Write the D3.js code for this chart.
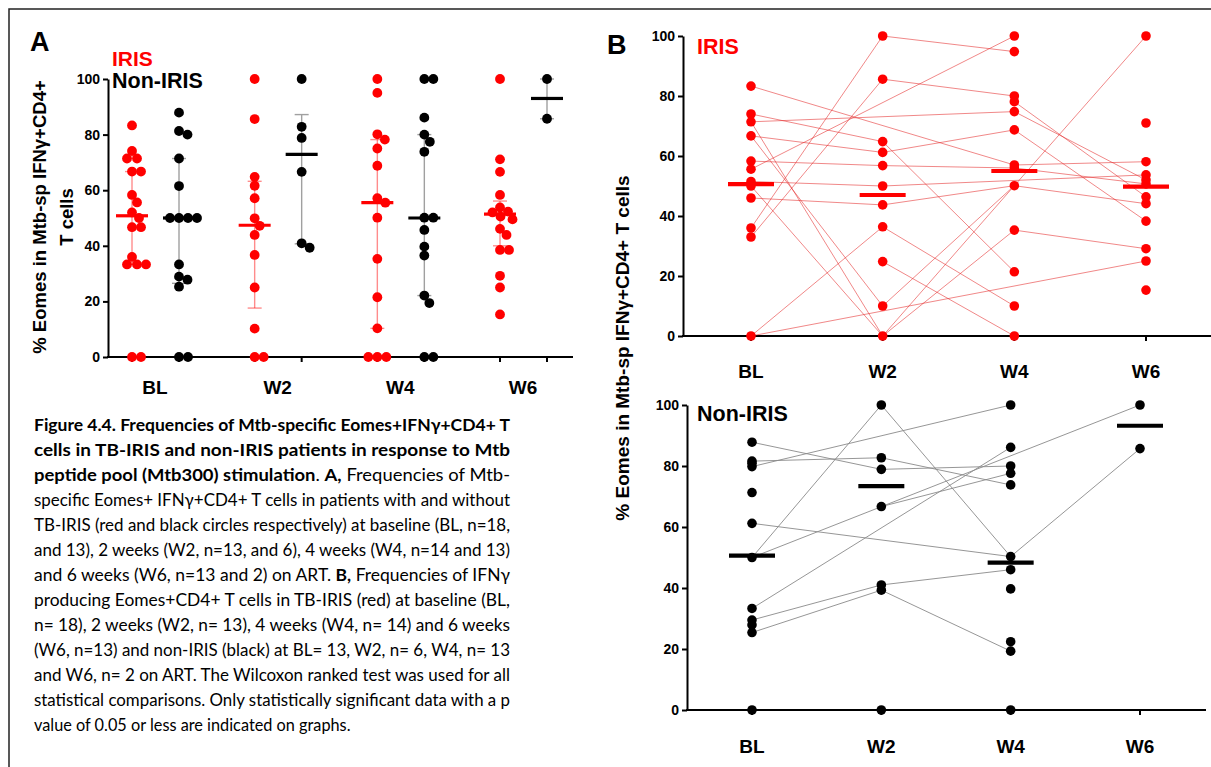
<!DOCTYPE html>
<html>
<head>
<meta charset="utf-8">
<script src="https://cdn.jsdelivr.net/npm/d3@7"></script>
<style>
  body { margin: 0; background: #fff; }
  svg { display: block; }
  text { font-family: "Liberation Sans", Arial, sans-serif; }
</style>
</head>
<body>
<div id="main-canvas"></div>
<script>
// Eomes+ IFNg+ CD4+ T cell frequencies, IRIS vs non-IRIS (figure 4.4)

const timepoints = ["BL", "W2", "W4", "W6"];
const yTicks = [0, 20, 40, 60, 80, 100];

// Panel A - scatter per time point
const irisA = [
    [83.3, 74.1, 71.4, 71.4, 66.7, 66.7, 58.3, 55.6, 52.0, 50.0, 46.7, 46.7, 36.0, 33.3, 33.3, 33.3, 0, 0],
    [100, 85.6, 64.8, 61.6, 57.1, 49.9, 47.2, 43.9, 36.7, 25.0, 10.2, 0, 0],
    [100, 95.0, 80.1, 78.2, 75.0, 68.8, 57.1, 55.5, 50.1, 35.3, 21.5, 10.3, 0, 0, 0],
    [100, 71.1, 66.6, 58.3, 53.8, 52.3, 52.0, 50.5, 49.5, 46.1, 43.9, 38.5, 38.5, 29.2, 25.0, 15.3]
];
const nonIrisA = [
    [87.9, 81.3, 80.0, 71.4, 61.5, 50, 50, 50, 50, 33.3, 28.9, 27.8, 25.3, 0, 0],
    [100, 82.8, 78.8, 66.6, 40.9, 39.3],
    [100, 100, 86.1, 80.0, 77.4, 73.8, 50.1, 50.1, 45.7, 39.7, 36.5, 22.1, 19.4, 0, 0],
    [100, 85.7]
];
const irisA_median = [50.8, 47.4, 55.5, 51.4];
const irisA_q1 = [33.3, 17.6, 10.3, 40.0];
const irisA_q3 = [66.7, 63.2, 78.2, 56.1];
const nonIrisA_median = [50.0, 72.9, 50.0, 93.0];
const nonIrisA_q1 = [26.5, 40.7, 22.1, 85.7];
const nonIrisA_q3 = [71.4, 87.2, 80.0, 100];

// Panel B - paired values (null = missing visit)
const irisB = [
    [83.3, 74.0, 71.4, 66.7, 58.3, 55.6, 51.5, 50.0, 46.0, 36.0, 33.0, 0],
    [100, 85.6, 64.8, 61.2, 56.8, 50.0, 43.7, 36.4, 24.8, 10.0, 0],
    [100, 94.8, 80.0, 78.1, 74.8, 68.7, 57.0, 56.0, 50.1, 35.3, 21.4, 10.0, 0],
    [100, 71.0, 58.1, 53.7, 52.0, 50.7, 46.4, 44.1, 38.3, 29.1, 25.0, 15.3]
];
const irisB_median = [50.6, 47.0, 55.0, 49.8];
const irisPatients = [
    [83.3, null, 57.0, 58.1],
    [74.0, 64.8, 21.4, null],
    [71.4, null, 74.8, 52.0],
    [71.4, 0, 50.1, 100],
    [66.7, 10.0, 50.1, 44.1],
    [66.7, 61.2, 68.7, 38.3],
    [58.3, 56.8, 56.0, 50.7],
    [55.6, null, 100, null],
    [51.5, 50.0, null, 53.7],
    [50.0, 0, 35.3, 29.1],
    [46.0, 43.7, 50.1, null],
    [36.0, 100, 94.8, null],
    [33.0, 85.6, 80.0, null],
    [null, null, 78.1, 46.4],
    [0, 36.4, 10.0, null],
    [0, null, null, 25.0],
    [null, 24.8, 0, null]
];

const nonIrisB = [
    [87.8, 81.6, 80.9, 79.8, 71.3, 61.2, 50.0, 33.3, 29.5, 27.9, 25.4, 0],
    [100, 82.7, 78.9, 66.7, 41.0, 39.3, 0],
    [100, 86.1, 80.0, 77.6, 73.8, 50.3, 46.0, 39.7, 22.4, 19.3, 0],
    [100, 85.7]
];
const nonIrisB_median = [50.6, 73.4, 48.3, 93.2];
const nonIrisPatients = [
    [87.8, 78.9, 80.0, null],
    [81.6, 82.7, 73.8, null],
    [79.8, null, 100, null],
    [50.0, 100, 50.3, 85.7],
    [50.0, null, null, 100],
    [61.2, null, 50.3, null],
    [33.3, null, 86.1, null],
    [null, 66.7, 77.6, null],
    [29.5, 41.0, 46.0, null],
    [25.4, 39.3, 19.3, null]
];

// caption lines: [text, bold]
const caption = [
    [["Figure 4.4. Frequencies of Mtb-specific Eomes+IFNγ+CD4+ T", 1]],
    [["cells in TB-IRIS and non-IRIS patients in response to Mtb", 1]],
    [["peptide pool (Mtb300) stimulation", 1], [". ", 0], ["A,", 1], [" Frequencies of Mtb-", 0]],
    [["specific Eomes+ IFNγ+CD4+ T cells in patients with and without", 0]],
    [["TB-IRIS (red and black circles respectively) at baseline (BL, n=18,", 0]],
    [["and 13), 2 weeks (W2, n=13, and 6), 4 weeks (W4, n=14 and 13)", 0]],
    [["and 6 weeks (W6, n=13 and 2) on ART. ", 0], ["B,", 1], [" Frequencies of IFNγ", 0]],
    [["producing Eomes+CD4+ T cells in TB-IRIS (red) at baseline (BL,", 0]],
    [["n= 18), 2 weeks (W2, n= 13), 4 weeks (W4, n= 14) and 6 weeks", 0]],
    [["(W6, n=13) and non-IRIS (black) at BL= 13, W2, n= 6, W4, n= 13", 0]],
    [["and W6, n= 2 on ART. The Wilcoxon ranked test was used for all", 0]],
    [["statistical comparisons. Only statistically significant data with a p", 0]],
    [["value of 0.05 or less are indicated on graphs.", 0]]
];

const width = 1211, height = 767;
const RED = "#ff0000";

let svg = d3.select("#main-canvas").append("svg")
    .attr("width", width)
    .attr("height", height);

svg.append("rect").attr("width", width).attr("height", height).attr("fill", "#fff");

// outer frame (runs off the picture on the right / bottom)
svg.append("rect")
    .attr("x", 9).attr("y", 9)
    .attr("width", 1300).attr("height", 900)
    .attr("fill", "none").attr("stroke", "#222").attr("stroke-width", 1.5);

function styleAxis(g) {
    g.attr("font-family", null).attr("font-size", null);
    g.select(".domain").attr("stroke", "#000").attr("stroke-width", 2);
    g.selectAll(".tick line").attr("stroke", "#000").attr("stroke-width", 2);
    g.selectAll(".tick text").attr("fill", "#000")
        .style("font-size", "14px").style("font-weight", "bold");
}

// simple beeswarm: place each dot as close to the column centre as it can go
function swarm(values, y, gap) {
    const placed = [];
    values.slice().sort((a, b) => b - a).forEach(v => {
        const py = y(v);
        let dx = 0;
        for (let k = 0; k < 200; k++) {
            const c = (k % 2 ? 1 : -1) * Math.ceil(k / 2) * 0.5;
            if (placed.every(p => Math.hypot(p.dx - c, p.y - py) >= gap)) { dx = c; break; }
        }
        placed.push({ v: v, dx: dx, y: py });
    });
    return placed;
}

function label(g, x, y, txt, size, color, anchor) {
    return g.append("text")
        .attr("x", x).attr("y", y)
        .attr("text-anchor", anchor || "start")
        .attr("fill", color || "#000")
        .style("font-size", size + "px")
        .style("font-weight", "bold")
        .text(txt);
}

// ================= Panel A =================
let yA = d3.scaleLinear().domain([0, 100]).range([357, 79]);
let xA = d3.scalePoint().domain(timepoints).range([155, 523]);
let sideA = d3.scalePoint().domain(["IRIS", "Non-IRIS"]).range([-23, 24]);

let gA = svg.append("g");

gA.append("g")
    .attr("transform", "translate(108,0)")
    .call(d3.axisLeft(yA).tickValues(yTicks).tickSize(5).tickSizeOuter(0).tickPadding(3))
    .call(styleAxis);

gA.append("line")
    .attr("x1", 107).attr("x2", 573)
    .attr("y1", yA(0)).attr("y2", yA(0))
    .attr("stroke", "#000").attr("stroke-width", 2);

timepoints.forEach(t => {
    ["IRIS", "Non-IRIS"].forEach(s => {
        gA.append("line")
            .attr("x1", xA(t) + sideA(s)).attr("x2", xA(t) + sideA(s))
            .attr("y1", yA(0)).attr("y2", yA(0) + 5)
            .attr("stroke", "#000").attr("stroke-width", 2);
    });
    label(gA, xA(t), 394, t, 19, "#000", "middle");
});

function drawGroupA(values, med, q1, q3, side, color, barColor) {
    timepoints.forEach((t, i) => {
        const cx = xA(t) + sideA(side);
        // interquartile bar
        gA.append("line")
            .attr("x1", cx).attr("x2", cx)
            .attr("y1", yA(q1[i])).attr("y2", yA(q3[i]))
            .attr("stroke", barColor).attr("stroke-width", 1.4);
        [q1[i], q3[i]].forEach(q => {
            gA.append("line")
                .attr("x1", cx - 7).attr("x2", cx + 7)
                .attr("y1", yA(q)).attr("y2", yA(q))
                .attr("stroke", barColor).attr("stroke-width", 1.4);
        });
        gA.append("g").selectAll("circle")
            .data(swarm(values[i], yA, 8.8))
            .enter().append("circle")
            .attr("cx", d => cx + d.dx)
            .attr("cy", d => d.y)
            .attr("r", 4.9)
            .attr("fill", color);
        gA.append("line")
            .attr("x1", cx - 16).attr("x2", cx + 16)
            .attr("y1", yA(med[i])).attr("y2", yA(med[i]))
            .attr("stroke", color).attr("stroke-width", 3.2);
    });
}

drawGroupA(irisA, irisA_median, irisA_q1, irisA_q3, "IRIS", RED, "rgba(255,0,0,0.45)");
drawGroupA(nonIrisA, nonIrisA_median, nonIrisA_q1, nonIrisA_q3, "Non-IRIS", "#000", "#a0a0a0");

label(gA, 30, 51, "A", 27);
label(gA, 112, 66, "IRIS", 21, RED);
label(gA, 112, 88, "Non-IRIS", 21.5);

gA.append("text")
    .attr("transform", "translate(46,217) rotate(-90)")
    .attr("text-anchor", "middle")
    .style("font-size", "18.5px").style("font-weight", "bold")
    .text("% Eomes in Mtb-sp IFNγ+CD4+");
gA.append("text")
    .attr("transform", "translate(73,217) rotate(-90)")
    .attr("text-anchor", "middle")
    .style("font-size", "18.5px").style("font-weight", "bold")
    .text("T cells");

// ================= Panel B =================
function panelB(cfg) {
    const g = svg.append("g");
    const x = d3.scalePoint().domain(timepoints).range(cfg.xRange);
    const y = d3.scaleLinear().domain([0, 100]).range(cfg.yRange);

    g.append("g")
        .attr("transform", "translate(" + cfg.axisX + ",0)")
        .call(d3.axisLeft(y).tickValues(yTicks).tickSize(5).tickSizeOuter(0).tickPadding(3))
        .call(styleAxis);

    g.append("line")
        .attr("x1", cfg.axisX - 1).attr("x2", cfg.axisEnd)
        .attr("y1", y(0)).attr("y2", y(0))
        .attr("stroke", "#000").attr("stroke-width", 2);

    timepoints.forEach(t => {
        g.append("line")
            .attr("x1", x(t)).attr("x2", x(t))
            .attr("y1", y(0)).attr("y2", y(0) + 5)
            .attr("stroke", "#000").attr("stroke-width", 2);
        label(g, x(t), cfg.labelY, t, 19, "#000", "middle");
    });

    const line = d3.line().x(d => x(d.t)).y(d => y(d.v));
    g.append("g").selectAll("path")
        .data(cfg.patients.map(p => p.map((v, i) => ({ t: timepoints[i], v: v })).filter(d => d.v !== null)))
        .enter().append("path")
        .attr("d", line)
        .attr("fill", "none")
        .attr("stroke", cfg.lineColor)
        .attr("stroke-width", 0.9);

    timepoints.forEach((t, i) => {
        g.append("g").selectAll("circle")
            .data(cfg.dots[i])
            .enter().append("circle")
            .attr("cx", x(t))
            .attr("cy", d => y(d))
            .attr("r", 4.8)
            .attr("fill", cfg.color);
        g.append("line")
            .attr("x1", x(t) - 23).attr("x2", x(t) + 23)
            .attr("y1", y(cfg.medians[i])).attr("y2", y(cfg.medians[i]))
            .attr("stroke", cfg.color).attr("stroke-width", 4.2);
    });

    label(g, 697, cfg.titleY, cfg.title, 21.5, cfg.color);
}

panelB({
    xRange: [751, 1146], yRange: [336, 36], axisX: 683, axisEnd: 1211, labelY: 378,
    dots: irisB, patients: irisPatients, medians: irisB_median,
    color: RED, lineColor: "rgba(228,40,40,0.62)", title: "IRIS", titleY: 54
});
panelB({
    xRange: [752, 1140], yRange: [710, 405], axisX: 687, axisEnd: 1206, labelY: 753,
    dots: nonIrisB, patients: nonIrisPatients, medians: nonIrisB_median,
    color: "#000", lineColor: "#8a8a8a", title: "Non-IRIS", titleY: 421
});

label(svg, 607, 54, "B", 27);

svg.append("text")
    .attr("transform", "translate(629,348) rotate(-90)")
    .attr("text-anchor", "middle")
    .style("font-size", "19px").style("font-weight", "bold")
    .text("% Eomes in Mtb-sp IFNγ+CD4+ T cells");

// ================= Caption =================
let cap = svg.append("g");
caption.forEach((segs, i) => {
    const t = cap.append("text")
        .attr("x", 34)
        .attr("y", 431 + i * 25)
        .style("font-family", "Lato, 'Open Sans', sans-serif")
        .style("font-size", "16.3px")
        .style("white-space", "pre")
        .attr("fill", "#000");
    if (i < caption.length - 1) {
        t.attr("textLength", 476).attr("lengthAdjust", "spacingAndGlyphs");
    }
    segs.forEach(s => {
        t.append("tspan")
            .style("font-weight", s[1] ? "bold" : "normal")
            .text(s[0]);
    });
});
</script>
</body>
</html>
